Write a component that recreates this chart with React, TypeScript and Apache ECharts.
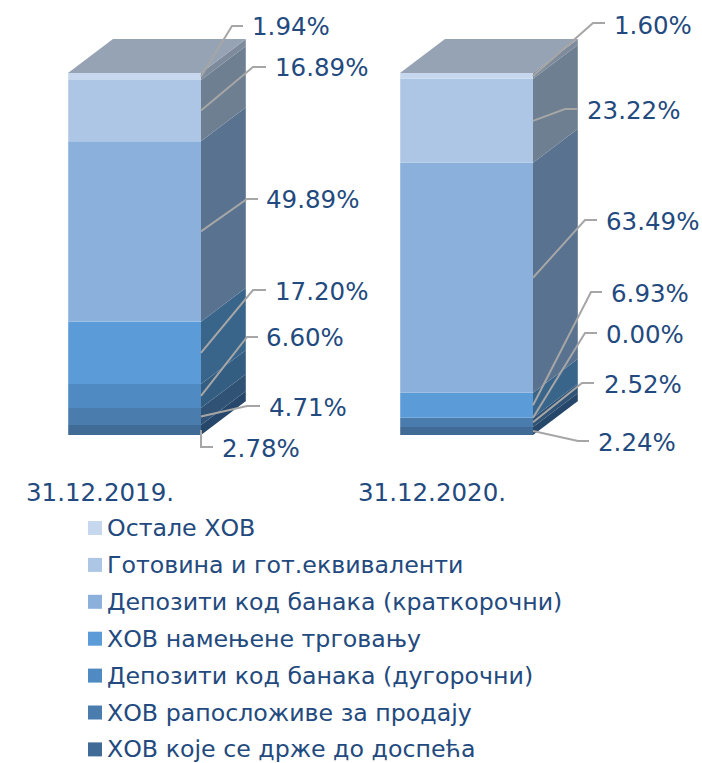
import React, { useEffect, useRef } from "react";
import * as echarts from "echarts";

const categories = ["31.12.2019.", "31.12.2020."];
// bottom of the stack first
const seriesNames = [
  "ХОВ које се држе до доспећа",
  "ХОВ рапосложиве за продају",
  "Депозити код банака (дугорочни)",
  "ХОВ намењене трговању",
  "Депозити код банака (краткорочни)",
  "Готовина и гот.еквиваленти",
  "Остале ХОВ",
];
const values2019 = [2.78, 4.71, 6.6, 17.2, 49.89, 16.89, 1.94];
const values2020 = [2.24, 2.52, 0.0, 6.93, 63.49, 23.22, 1.6];
const legendOrder = [...seriesNames].reverse();

const frontColors = ["#3f6b96", "#4a7cae", "#508ac2", "#5b9bd8", "#8bb0dc", "#adc6e5", "#c6d7ee"];
const sideColors = ["#27476a", "#2f5275", "#345d82", "#3a658b", "#587290", "#6e7f92", "#7d8b9c"];
const topColor = "#96a3b4";
const textColor = "#234a7e";
const leaderColor = "#a6a6a6";
const edgeColor = "rgba(255,255,255,0.28)";
const fontFamily = '"DejaVu Sans", Verdana, sans-serif';

// bar geometry relative to the category position, in pixels
const barLeft = -32;
const barRight = 101;
const depthX = 45;
const depthY = -34;

// leader line bends [elbowX, elbowY, endX, endY, textX, textY], by category, then series
const leaders = [
  [
    [201, 447, 213, 447, 222, 448],
    [247, 406, 260, 406, 269, 407],
    [247, 337, 258, 337, 266, 337],
    [253, 290, 266, 290, 275, 291],
    [247, 199, 258, 199, 266, 199],
    [253, 67, 266, 67, 275, 67],
    [232, 26, 243, 26, 252, 26],
  ],
  [
    [578, 441, 589, 441, 598, 442],
    [582, 383, 594, 383, 604, 384],
    [585, 333, 597, 333, 606, 334],
    [591, 292, 602, 292, 611, 293],
    [585, 220, 597, 220, 606, 221],
    [565, 109, 577, 109, 587, 110],
    [593, 23, 605, 23, 614, 25],
  ],
];

const allValues = [values2019, values2020];
const cumulative = (vals: number[]) => {
  let s = 0;
  return vals.map((v) => {
    const r = [s, s + v];
    s += v;
    return r;
  });
};
const stacks = allValues.map(cumulative);

export default function App() {
  const ref = useRef<HTMLDivElement>(null);
  useEffect(() => {
    const chart = echarts.init(ref.current!, undefined, { renderer: "svg" });

    const barSeries = seriesNames.map((name, si) => ({
      type: "custom",
      name,
      itemStyle: { color: frontColors[si] },
      encode: { x: 0, y: [1, 2] },
      data: categories.map((_, ci) => [ci, stacks[ci][si][0], stacks[ci][si][1]]),
      renderItem: (_p: any, api: any) => {
        const ci = api.value(0);
        const a = api.coord([ci, api.value(1)]);
        const b = api.coord([ci, api.value(2)]);
        const l = a[0] + barLeft;
        const r = a[0] + barRight;
        const children: any[] = [
          {
            type: "polygon",
            shape: {
              points: [
                [r, a[1]],
                [r + depthX, a[1] + depthY],
                [r + depthX, b[1] + depthY],
                [r, b[1]],
              ],
            },
            style: { fill: sideColors[si] },
          },
          {
            type: "rect",
            shape: { x: l, y: b[1], width: r - l, height: a[1] - b[1] },
            style: { fill: frontColors[si] },
          },
          {
            type: "polyline",
            shape: { points: [[l, a[1]], [l, b[1]]] },
            style: { stroke: edgeColor, lineWidth: 1.5, fill: "none" },
          },
          {
            type: "polyline",
            shape: { points: [[r + depthX, a[1] + depthY], [r + depthX, b[1] + depthY]] },
            style: { stroke: edgeColor, lineWidth: 1.5, fill: "none" },
          },
        ];
        if (si === seriesNames.length - 1) {
          children.push({
            type: "polygon",
            shape: {
              points: [
                [l, b[1]],
                [l + depthX, b[1] + depthY],
                [r + depthX, b[1] + depthY],
                [r, b[1]],
              ],
            },
            style: { fill: topColor },
          });
        }
        return { type: "group", children };
      },
    }));

    const leaderData: number[][] = [];
    categories.forEach((_, ci) =>
      seriesNames.forEach((_n, si) => {
        const [s, e] = stacks[ci][si];
        leaderData.push([ci, (s + e) / 2, si, allValues[ci][si]]);
      })
    );

    const leaderSeries = {
      type: "custom",
      name: "labels",
      encode: { x: 0, y: 1 },
      data: leaderData,
      z: 5,
      renderItem: (_p: any, api: any) => {
        const ci = api.value(0);
        const si = api.value(2);
        const start = api.coord([ci, api.value(1)]);
        const [ex, ey, fx, fy, tx, ty] = leaders[ci][si];
        return {
          type: "group",
          children: [
            {
              type: "polyline",
              shape: {
                points: [
                  [start[0] + barRight, start[1]],
                  [ex, ey],
                  [fx, fy],
                ],
              },
              style: { stroke: leaderColor, lineWidth: 2, fill: "none" },
            },
            {
              type: "text",
              style: {
                text: api.value(3).toFixed(2) + "%",
                x: tx,
                y: ty,
                fill: textColor,
                fontSize: 24.5,
                fontFamily,
                verticalAlign: "middle",
                align: "left",
              },
            },
          ],
        };
      },
    };

    chart.setOption({
      animation: false,
      backgroundColor: "#ffffff",
      grid: { left: 100, top: 73, width: 332, height: 362, containLabel: false },
      xAxis: {
        type: "category",
        data: categories,
        boundaryGap: false,
        axisLine: { show: false },
        axisTick: { show: false },
        axisLabel: { margin: 45, fontSize: 24.5, fontFamily, color: textColor, hideOverlap: false, interval: 0 },
      },
      yAxis: { type: "value", min: 0, max: 100, show: false },
      legend: {
        data: legendOrder,
        orient: "vertical",
        left: 88,
        top: 516,
        height: 300,
        padding: 0,
        itemWidth: 14,
        itemHeight: 14,
        itemGap: 12.9,
        icon: "rect",
        selectedMode: false,
        textStyle: { fontSize: 23.7, fontFamily, color: textColor },
      },
      series: [...barSeries, leaderSeries],
    });
    return () => chart.dispose();
  }, []);
  return <div ref={ref} style={{ position: "absolute", left: 0, top: 0, width: 702, height: 763 }} />;
}
